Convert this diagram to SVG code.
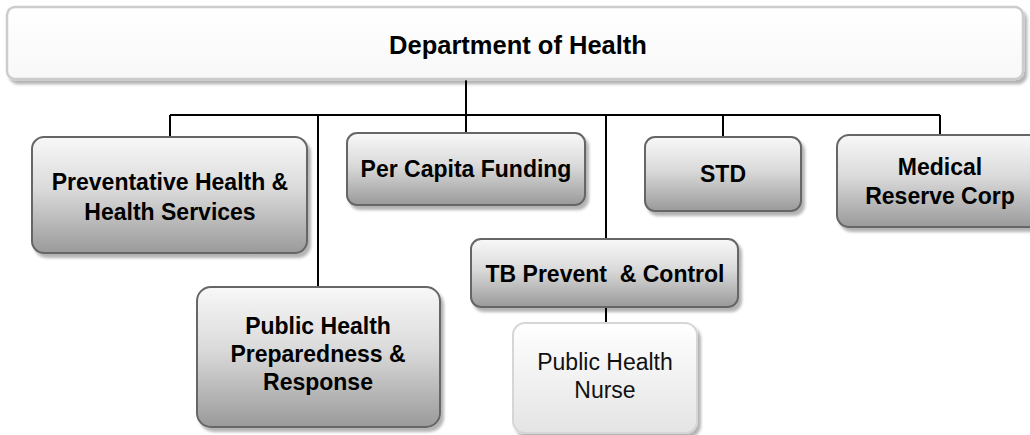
<svg xmlns="http://www.w3.org/2000/svg" width="1030" height="435" viewBox="0 0 1030 435">
<style>
.box{fill:url(#g);stroke:#666;stroke-width:2;filter:url(#sh)}
.lite{fill:url(#gl);stroke:#d6d6d6;stroke-width:2;filter:url(#sh)}
.top{fill:url(#gt);stroke:#cccccc;stroke-width:2.5;filter:url(#sh)}
.t{font-family:"Liberation Sans",Arial,sans-serif;font-weight:bold;font-size:23px;fill:#000;text-anchor:middle}
.r{font-family:"Liberation Sans",Arial,sans-serif;font-size:23px;fill:#111;text-anchor:middle}
.ln{stroke:#000;stroke-width:2;fill:none}
</style>
<defs>
<linearGradient id="g" x1="0" y1="0" x2="0" y2="1"><stop offset="0" stop-color="#f8f8f8"/><stop offset="0.45" stop-color="#dadada"/><stop offset="1" stop-color="#9a9a9a"/></linearGradient>
<linearGradient id="gl" x1="0" y1="0" x2="0" y2="1"><stop offset="0" stop-color="#ffffff"/><stop offset="1" stop-color="#e4e4e4"/></linearGradient>
<linearGradient id="gt" x1="0" y1="0" x2="0" y2="1"><stop offset="0" stop-color="#ffffff"/><stop offset="1" stop-color="#f8f8f8"/></linearGradient>
<filter id="sh" x="-5%" y="-5%" width="115%" height="125%">
<feGaussianBlur in="SourceAlpha" stdDeviation="1.5"/>
<feOffset dx="3" dy="4"/>
<feComponentTransfer><feFuncA type="linear" slope="0.3"/></feComponentTransfer>
<feMerge><feMergeNode/><feMergeNode in="SourceGraphic"/></feMerge>
</filter>
</defs>
<g id="connectors">
<path class="ln" d="M466 80 V115 M170 115 H940 M170 115 V137 M318 115 V287 M466 115 V133 M606 115 V239 M723 115 V137 M940 115 V135 M606 307 V323"/>
</g>
<g id="dept">
<rect class="top" x="7" y="7" width="1016" height="72" rx="8"/>
<text class="t" x="518" y="54" style="font-size:25.5px">Department of Health</text>
</g>
<g id="preventative">
<rect class="box" x="32" y="137" width="275" height="116" rx="12"/>
<text class="t" x="170" y="190">Preventative Health &amp;</text>
<text class="t" x="170" y="220">Health Services</text>
</g>
<g id="percapita">
<rect class="box" x="347" y="133" width="238" height="72" rx="10"/>
<text class="t" x="466" y="177">Per Capita Funding</text>
</g>
<g id="std">
<rect class="box" x="645" y="137" width="156" height="74" rx="10"/>
<text class="t" x="723" y="182">STD</text>
</g>
<g id="medical">
<rect class="box" x="837" y="135" width="206" height="92" rx="12"/>
<text class="t" x="940" y="175">Medical</text>
<text class="t" x="940" y="204">Reserve Corp</text>
</g>
<g id="tb">
<rect class="box" x="471" y="239" width="267" height="68" rx="10"/>
<text class="t" x="605" y="282" xml:space="preserve">TB Prevent  &amp; Control</text>
</g>
<g id="php">
<rect class="box" x="197" y="287" width="243" height="140" rx="14"/>
<text class="t" x="318" y="334">Public Health</text>
<text class="t" x="318" y="362">Preparedness &amp;</text>
<text class="t" x="318" y="390">Response</text>
</g>
<g id="nurse">
<rect class="lite" x="513" y="323" width="184" height="110" rx="12"/>
<text class="r" x="605" y="370">Public Health</text>
<text class="r" x="605" y="398">Nurse</text>
</g>
</svg>
